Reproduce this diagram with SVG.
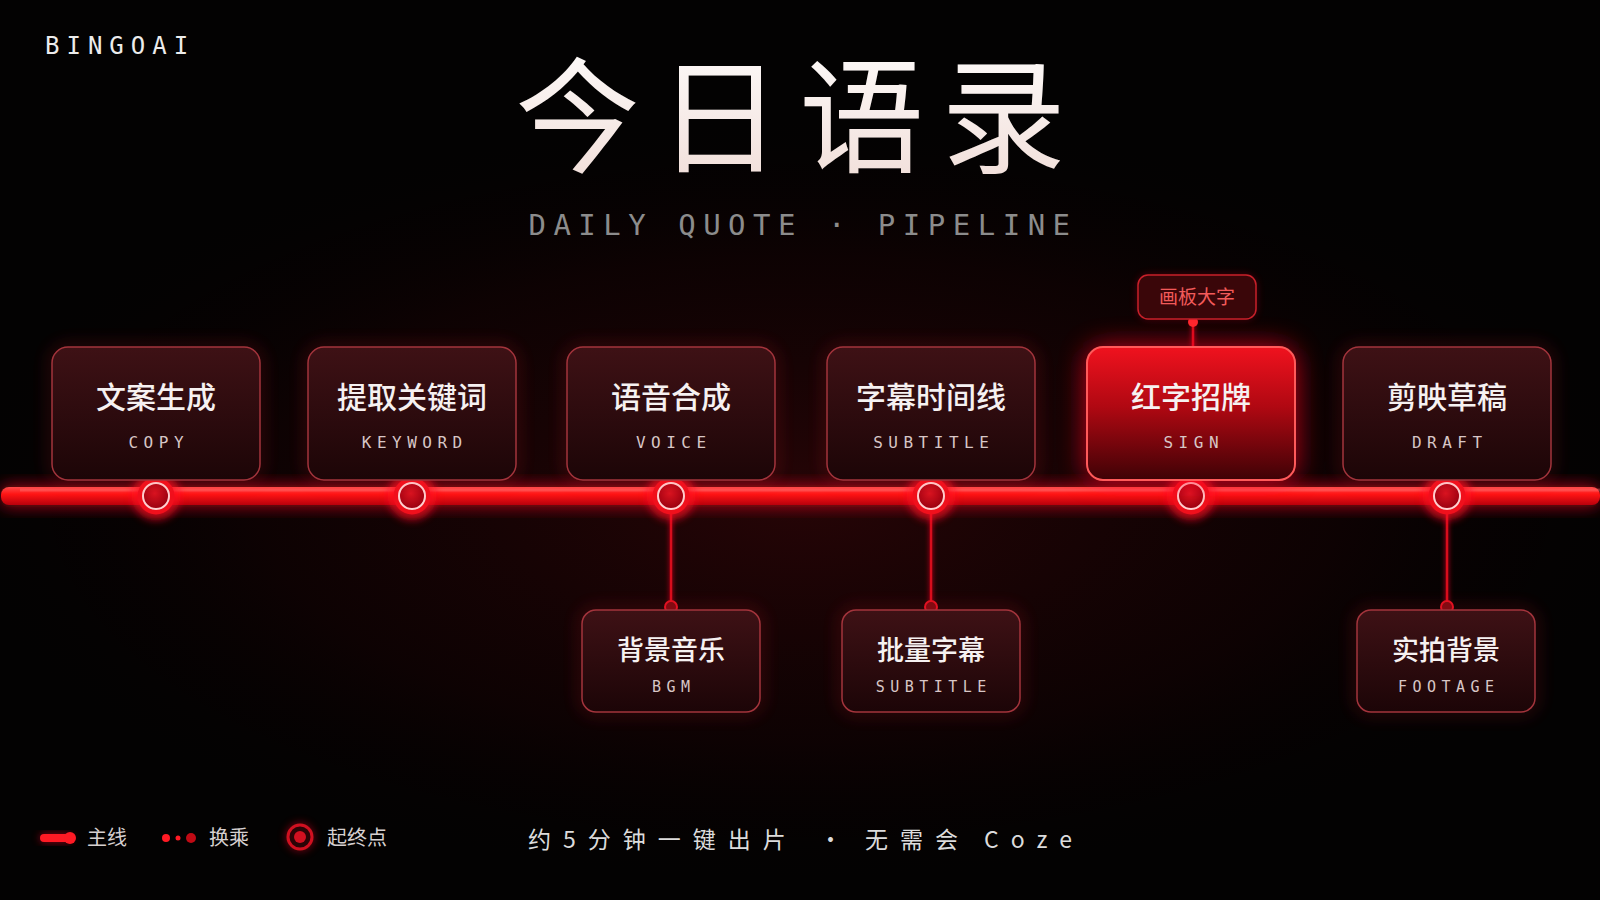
<svg xmlns="http://www.w3.org/2000/svg" width="1600" height="900" viewBox="0 0 1600 900">
<defs>
<radialGradient id="bgGlow" cx="800" cy="500" r="900" gradientUnits="userSpaceOnUse" gradientTransform="translate(0 500) scale(1 0.45) translate(0 -500)">
<stop offset="0" stop-color="#2a0507" stop-opacity="0.9"/>
<stop offset="0.6" stop-color="#140203" stop-opacity="0.6"/>
<stop offset="1" stop-color="#000" stop-opacity="0"/>
</radialGradient>
<linearGradient id="nodeFill" x1="0" y1="0" x2="0" y2="1">
<stop offset="0" stop-color="#3e1115"/>
<stop offset="1" stop-color="#1c0507"/>
</linearGradient>
<linearGradient id="hiFill" x1="0" y1="0" x2="0" y2="1">
<stop offset="0" stop-color="#f0121e"/>
<stop offset="0.45" stop-color="#b00812"/>
<stop offset="1" stop-color="#3e0206"/>
</linearGradient>
<linearGradient id="lineFill" x1="0" y1="0" x2="0" y2="1">
<stop offset="0" stop-color="#ff4a4a"/>
<stop offset="0.4" stop-color="#ff1414"/>
<stop offset="1" stop-color="#b8000c"/>
</linearGradient>
<linearGradient id="titleFill" x1="0" y1="0" x2="0" y2="1">
<stop offset="0" stop-color="#ffffff"/>
<stop offset="1" stop-color="#f0dcd6"/>
</linearGradient>
<radialGradient id="dotFill" cx="0.45" cy="0.4" r="0.6">
<stop offset="0" stop-color="#d81420"/>
<stop offset="1" stop-color="#9a0010"/>
</radialGradient>
<filter id="blur8" x="-50%" y="-50%" width="200%" height="200%"><feGaussianBlur stdDeviation="8"/></filter>
<filter id="blur4" x="-50%" y="-50%" width="200%" height="200%"><feGaussianBlur stdDeviation="4"/></filter>
<filter id="blur14" x="-50%" y="-50%" width="200%" height="200%"><feGaussianBlur stdDeviation="14"/></filter>
<filter id="glow2" filterUnits="userSpaceOnUse" x="0" y="0" width="1600" height="900"><feGaussianBlur in="SourceGraphic" stdDeviation="2.5" result="b"/><feMerge><feMergeNode in="b"/><feMergeNode in="SourceGraphic"/></feMerge></filter>
</defs>
<style>
.cn{font-family:"Noto Sans CJK SC","Noto Sans",sans-serif;}
.mono{font-family:"DejaVu Sans Mono","Liberation Mono",monospace;}
.box{fill:url(#nodeFill);stroke:#a3343c;stroke-width:1.5;}
.boxGlow{fill:none;stroke:#ff2030;stroke-width:6;opacity:0.25;filter:url(#blur8);}
.t1{font-size:30px;font-weight:500;fill:#f6f1f1;text-anchor:middle;}
.t2{font-size:16px;fill:#d8c6c6;text-anchor:middle;letter-spacing:5.5px;}
.b1{font-size:27px;font-weight:500;fill:#f6f1f1;text-anchor:middle;}
.b2{font-size:15px;fill:#d8c6c6;text-anchor:middle;letter-spacing:5.5px;}
.conn{stroke:#d8101c;stroke-width:2.5;fill:none;}
.cdot{fill:#7a0a10;stroke:#e01020;stroke-width:2;}
.leg{font-size:20px;fill:#d6d0d0;}
</style>

<rect width="1600" height="900" fill="#030202"/>
<rect width="1600" height="900" fill="url(#bgGlow)"/>

<!-- header -->
<text x="45" y="54" class="mono" font-size="24" fill="#ececec" letter-spacing="7">BINGOAI</text>
<text x="515" y="163" class="cn" font-size="125" fill="url(#titleFill)" letter-spacing="17">今日语录</text>
<text x="803" y="235" class="mono" font-size="29" fill="#8c8c8c" text-anchor="middle" letter-spacing="7.5">DAILY QUOTE · PIPELINE</text>

<!-- connectors -->
<g id="connectors">
<rect x="0" y="485" width="1600" height="22" rx="9" fill="#ff1020" opacity="0.6" filter="url(#blur8)"/>
<rect x="1" y="487" width="1599" height="18" rx="8" fill="url(#lineFill)"/>
<rect x="20" y="488.5" width="1580" height="3" fill="#ff8080" opacity="0.35"/>
<g filter="url(#glow2)">
<line class="conn" x1="671" y1="514" x2="671" y2="604"/>
<line class="conn" x1="931" y1="514" x2="931" y2="604"/>
<line class="conn" x1="1447" y1="514" x2="1447" y2="604"/>
<line class="conn" x1="1193" y1="322" x2="1193" y2="347"/>
</g>
<circle class="cdot" cx="671" cy="607" r="6"/>
<circle class="cdot" cx="931" cy="607" r="6"/>
<circle class="cdot" cx="1447" cy="607" r="6"/>
<circle cx="1193" cy="322" r="5" fill="#ff2a30"/>
</g>

<!-- stations -->
<g id="stations">
<g transform="translate(156 496)"><circle r="24" fill="#ff1020" opacity="0.7" filter="url(#blur4)"/><circle r="18.5" fill="#f0101c"/><circle r="13" fill="url(#dotFill)" stroke="#ffd0d0" stroke-width="2"/></g>
<g transform="translate(412 496)"><circle r="24" fill="#ff1020" opacity="0.7" filter="url(#blur4)"/><circle r="18.5" fill="#f0101c"/><circle r="13" fill="url(#dotFill)" stroke="#ffd0d0" stroke-width="2"/></g>
<g transform="translate(671 496)"><circle r="24" fill="#ff1020" opacity="0.7" filter="url(#blur4)"/><circle r="18.5" fill="#f0101c"/><circle r="13" fill="url(#dotFill)" stroke="#ffd0d0" stroke-width="2"/></g>
<g transform="translate(931 496)"><circle r="24" fill="#ff1020" opacity="0.7" filter="url(#blur4)"/><circle r="18.5" fill="#f0101c"/><circle r="13" fill="url(#dotFill)" stroke="#ffd0d0" stroke-width="2"/></g>
<g transform="translate(1191 496)"><circle r="24" fill="#ff1020" opacity="0.7" filter="url(#blur4)"/><circle r="18.5" fill="#f0101c"/><circle r="13" fill="url(#dotFill)" stroke="#ffd0d0" stroke-width="2"/></g>
<g transform="translate(1447 496)"><circle r="24" fill="#ff1020" opacity="0.7" filter="url(#blur4)"/><circle r="18.5" fill="#f0101c"/><circle r="13" fill="url(#dotFill)" stroke="#ffd0d0" stroke-width="2"/></g>
</g>

<!-- top nodes -->
<g id="node-copy">
<rect class="boxGlow" x="52" y="347" width="208" height="133" rx="16"/>
<rect class="box" x="52" y="347" width="208" height="133" rx="16"/>
<text class="cn t1" x="156" y="408">文案生成</text>
<text class="mono t2" x="158.75" y="448">COPY</text>
</g>
<g id="node-keyword">
<rect class="boxGlow" x="308" y="347" width="208" height="133" rx="16"/>
<rect class="box" x="308" y="347" width="208" height="133" rx="16"/>
<text class="cn t1" x="412" y="408">提取关键词</text>
<text class="mono t2" x="414.75" y="448">KEYWORD</text>
</g>
<g id="node-voice">
<rect class="boxGlow" x="567" y="347" width="208" height="133" rx="16"/>
<rect class="box" x="567" y="347" width="208" height="133" rx="16"/>
<text class="cn t1" x="671" y="408">语音合成</text>
<text class="mono t2" x="673.75" y="448">VOICE</text>
</g>
<g id="node-subtitle">
<rect class="boxGlow" x="827" y="347" width="208" height="133" rx="16"/>
<rect class="box" x="827" y="347" width="208" height="133" rx="16"/>
<text class="cn t1" x="931" y="408">字幕时间线</text>
<text class="mono t2" x="933.75" y="448">SUBTITLE</text>
</g>
<g id="node-sign">
<rect x="1087" y="347" width="208" height="133" rx="16" fill="#ff1020" opacity="0.8" filter="url(#blur14)"/>
<rect x="1087" y="347" width="208" height="133" rx="16" fill="url(#hiFill)" stroke="#ff5a5a" stroke-width="2"/>
<text class="cn t1" x="1191" y="408">红字招牌</text>
<text class="mono t2" x="1193.75" y="448" fill="#f0c6c6">SIGN</text>
</g>
<g id="node-draft">
<rect class="boxGlow" x="1343" y="347" width="208" height="133" rx="16"/>
<rect class="box" x="1343" y="347" width="208" height="133" rx="16"/>
<text class="cn t1" x="1447" y="408">剪映草稿</text>
<text class="mono t2" x="1449.75" y="448">DRAFT</text>
</g>

<!-- tag -->
<g id="tag-artboard">
<rect x="1138" y="275" width="118" height="44" rx="10" fill="#ff1020" opacity="0.3" filter="url(#blur4)"/>
<rect x="1138" y="275" width="118" height="44" rx="10" fill="#3a0609" stroke="#c8202a" stroke-width="1.5"/>
<text class="cn" x="1197" y="304" font-size="19" fill="#f25a5a" text-anchor="middle">画板大字</text>
</g>

<!-- bottom nodes -->
<g id="node-bgm">
<rect class="boxGlow" x="582" y="610" width="178" height="102" rx="14"/>
<rect class="box" x="582" y="610" width="178" height="102" rx="14"/>
<text class="cn b1" x="671" y="660">背景音乐</text>
<text class="mono b2" x="673.75" y="692">BGM</text>
</g>
<g id="node-batch-subtitle">
<rect class="boxGlow" x="842" y="610" width="178" height="102" rx="14"/>
<rect class="box" x="842" y="610" width="178" height="102" rx="14"/>
<text class="cn b1" x="931" y="660">批量字幕</text>
<text class="mono b2" x="933.75" y="692">SUBTITLE</text>
</g>
<g id="node-footage">
<rect class="boxGlow" x="1357" y="610" width="178" height="102" rx="14"/>
<rect class="box" x="1357" y="610" width="178" height="102" rx="14"/>
<text class="cn b1" x="1446" y="660">实拍背景</text>
<text class="mono b2" x="1448.75" y="692">FOOTAGE</text>
</g>

<!-- legend -->
<g id="legend">
<rect x="40" y="834" width="32" height="8" rx="4" fill="#ff1020" opacity="0.6" filter="url(#blur4)"/>
<rect x="40" y="834" width="32" height="8" rx="4" fill="#ff1a24"/>
<circle cx="70" cy="838" r="6" fill="#ff1a24"/>
<text class="cn leg" x="87" y="845">主线</text>
<circle cx="166" cy="838" r="4" fill="#ff1a24"/>
<circle cx="178" cy="838" r="2.5" fill="#ff1a24"/>
<circle cx="191" cy="838" r="5" fill="#c00a14"/>
<text class="cn leg" x="209" y="845">换乘</text>
<circle cx="300" cy="837" r="14" fill="#e0101c" opacity="0.5" filter="url(#blur4)"/>
<circle cx="300" cy="837" r="12" fill="#2a0406" stroke="#d01020" stroke-width="3"/>
<circle cx="300" cy="837" r="6" fill="#d01020"/>
<text class="cn leg" x="327" y="845">起终点</text>
</g>

<text class="cn" y="848" font-size="23" fill="#dcdcdc" letter-spacing="12"><tspan x="528">约5分钟一键出片</tspan><tspan x="819">·</tspan><tspan x="865">无需会</tspan><tspan x="984">Coze</tspan></text>
</svg>
